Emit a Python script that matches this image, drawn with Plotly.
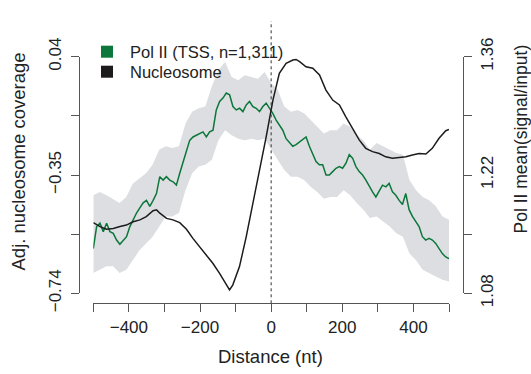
import numpy as np
import plotly.graph_objects as go

W, H = 531, 374

# ---------------- data ----------------
# Pol II mean signal/input (right axis), on an even distance grid
POL2_X = np.linspace(-500, 500, 108)
POL2_MEAN = [
    1.133, 1.159, 1.163, 1.153, 1.163, 1.153, 1.151, 1.143, 1.138, 1.143,
    1.147, 1.159, 1.167, 1.175, 1.181, 1.187, 1.190, 1.183, 1.190, 1.198,
    1.218, 1.214, 1.218, 1.214, 1.212, 1.208, 1.222, 1.234, 1.248, 1.261,
    1.265, 1.267, 1.269, 1.271, 1.265, 1.271, 1.273, 1.297, 1.307, 1.311,
    1.317, 1.315, 1.301, 1.297, 1.299, 1.295, 1.303, 1.307, 1.301, 1.299,
    1.295, 1.301, 1.305, 1.299, 1.293, 1.285, 1.279, 1.273, 1.263, 1.258,
    1.254, 1.256, 1.259, 1.261, 1.265, 1.254, 1.244, 1.236, 1.232, 1.232,
    1.220, 1.220, 1.224, 1.228, 1.230, 1.228, 1.234, 1.244, 1.240, 1.230,
    1.224, 1.220, 1.214, 1.206, 1.200, 1.194, 1.202, 1.208, 1.206, 1.210,
    1.200, 1.196, 1.190, 1.185, 1.198, 1.179, 1.171, 1.165, 1.159, 1.147,
    1.143, 1.145, 1.143, 1.139, 1.133, 1.127, 1.123, 1.121,
]

# Confidence band around Pol II mean
BAND_X = np.linspace(-500, 500, 55)
BAND_UPPER = [
    1.196, 1.200, 1.196, 1.192, 1.187, 1.194, 1.210, 1.216, 1.222, 1.232,
    1.250, 1.254, 1.252, 1.254, 1.281, 1.295, 1.299, 1.301, 1.325, 1.344,
    1.354, 1.336, 1.332, 1.338, 1.336, 1.334, 1.342, 1.329, 1.321, 1.301,
    1.295, 1.297, 1.293, 1.285, 1.277, 1.269, 1.273, 1.273, 1.281, 1.277,
    1.267, 1.261, 1.250, 1.258, 1.254, 1.250, 1.246, 1.244, 1.214, 1.202,
    1.194, 1.190, 1.183, 1.171, 1.167,
]
BAND_LOWER = [
    1.104, 1.108, 1.112, 1.112, 1.104, 1.108, 1.119, 1.131, 1.139, 1.147,
    1.159, 1.171, 1.171, 1.175, 1.202, 1.222, 1.230, 1.232, 1.238, 1.261,
    1.273, 1.267, 1.263, 1.261, 1.263, 1.261, 1.263, 1.250, 1.238, 1.226,
    1.218, 1.218, 1.214, 1.206, 1.200, 1.192, 1.194, 1.194, 1.202, 1.196,
    1.187, 1.179, 1.169, 1.171, 1.165, 1.159, 1.151, 1.147, 1.127, 1.119,
    1.108, 1.104, 1.100, 1.096, 1.094,
]

# Adjusted nucleosome coverage (left axis)
NUC_X = [
    -500, -481, -463, -444, -425, -407, -388, -369, -351, -332,
    -322, -313, -294, -276, -257, -238, -220, -201, -182, -164,
    -145, -126, -117, -108, -89, -70, -51, -33, -14, 5,
    23, 42, 61, 70, 80, 98, 117, 136, 154, 173,
    192, 210, 229, 248, 266, 285, 304, 322, 341, 360,
    379, 397, 416, 435, 453, 472, 491, 500,
]
NUC_COV = [
    -0.507, -0.520, -0.529, -0.526, -0.520, -0.515, -0.504, -0.498, -0.487, -0.468,
    -0.465, -0.476, -0.493, -0.498, -0.507, -0.529, -0.559, -0.586, -0.614, -0.641,
    -0.674, -0.713, -0.729, -0.713, -0.652, -0.553, -0.443, -0.334, -0.224, -0.103,
    -0.015, 0.018, 0.029, 0.031, 0.024, 0.007, 0.002, -0.020, -0.070, -0.103,
    -0.119, -0.158, -0.196, -0.235, -0.262, -0.273, -0.279, -0.290, -0.295, -0.292,
    -0.290, -0.284, -0.279, -0.281, -0.262, -0.229, -0.204, -0.200,
]

X_TICKS = [-500, -400, -300, -200, -100, 0, 100, 200, 300, 400, 500]
X_TICK_TEXT = ["", "\u2212400", "", "\u2212200", "", "0", "", "200", "", "400", ""]
YL_TICKS = [0.04, -0.155, -0.35, -0.545, -0.74]
YL_TICK_TEXT = ["0.04", "", "\u22120.35", "", "\u22120.74"]
YR_TICKS = [1.36, 1.29, 1.22, 1.15, 1.08]
YR_TICK_TEXT = ["1.36", "", "1.22", "", "1.08"]

SERIES_NAMES = ["Pol II (TSS, n=1,311)", "Nucleosome"]

# ---------------- style ----------------
GREEN = "#0b773a"
BLACK = "#1e1b1c"
BAND = "#dddee1"
AXIS = "#555555"
TEXT = "#222222"
FONT = "Liberation Sans, Arial, Helvetica, sans-serif"
SERIES_COLORS = [GREEN, BLACK]


def px(x):
    return x / W


def py(y):
    return 1 - y / H


fig = go.Figure()

# Pol II on base y axis (right side); nucleosome on overlaying y2 (left side, drawn on top)
fig.add_trace(go.Scatter(
    x=list(BAND_X) + list(BAND_X[::-1]),
    y=BAND_UPPER + BAND_LOWER[::-1],
    fill="toself", fillcolor=BAND, line=dict(width=0),
    mode="lines", yaxis="y", showlegend=False, hoverinfo="skip",
))
fig.add_trace(go.Scatter(
    x=POL2_X, y=POL2_MEAN, mode="lines", yaxis="y",
    line=dict(color=GREEN, width=1.5), showlegend=False,
))
fig.add_trace(go.Scatter(
    x=NUC_X, y=NUC_COV, mode="lines", yaxis="y2",
    line=dict(color=BLACK, width=1.5), showlegend=False,
))

axis_common = dict(
    showline=True, linecolor=AXIS, linewidth=1.2,
    ticks="outside", ticklen=8, tickwidth=1.2, tickcolor=AXIS,
    showgrid=False, zeroline=False, automargin=False,
    tickfont=dict(family=FONT, size=17, color=TEXT),
)

# manual legend: square keys + labels
LEG_KEY_X = 107
LEG_ROW_Y = [51.7, 71.7]
shapes = [dict(
    type="line", xref="x", yref="paper", x0=0, x1=0,
    y0=py(303.3), y1=py(21), line=dict(color="#333333", width=1, dash="3px,3px"),
    layer="above",
)]
annotations = [
    dict(text="Distance (nt)", xref="paper", yref="paper", x=px(270.5), y=py(356),
         xanchor="center", yanchor="middle", showarrow=False,
         font=dict(family=FONT, size=18.5, color=TEXT)),
    dict(text="Adj. nucleosome coverage", xref="paper", yref="paper", x=px(18.5), y=py(162),
         xanchor="center", yanchor="middle", showarrow=False, textangle=-90,
         font=dict(family=FONT, size=18.5, color=TEXT)),
    dict(text="Pol II mean(signal/input)", xref="paper", yref="paper", x=px(520.5), y=py(139),
         xanchor="center", yanchor="middle", showarrow=False, textangle=-90,
         font=dict(family=FONT, size=17.5, color=TEXT)),
]
for name, col, ry in zip(SERIES_NAMES, SERIES_COLORS, LEG_ROW_Y):
    shapes.append(dict(
        type="rect", xref="paper", yref="paper",
        x0=px(LEG_KEY_X - 6), x1=px(LEG_KEY_X + 6), y0=py(ry + 6), y1=py(ry - 6),
        fillcolor=col, line=dict(width=0), layer="above",
    ))
    annotations.append(dict(
        text=name, xref="paper", yref="paper", x=px(128), y=py(ry + 0.5),
        xanchor="left", yanchor="middle", showarrow=False,
        font=dict(family=FONT, size=16.5, color=TEXT),
    ))

fig.update_layout(
    width=W, height=H, autosize=False,
    margin=dict(l=0, r=0, t=0, b=0, autoexpand=False),
    paper_bgcolor="white", plot_bgcolor="white",
    font=dict(family=FONT, color=TEXT),
    showlegend=False,
    xaxis=dict(
        domain=[px(93.3), px(449)], range=[-500, 500],
        anchor="free", position=py(303.3),
        tickmode="array", tickvals=X_TICKS, ticktext=X_TICK_TEXT,
        **axis_common,
    ),
    yaxis=dict(
        domain=[py(293.3), py(56.7)], range=[1.08, 1.36],
        side="right", anchor="free", position=px(463.3),
        tickmode="array", tickvals=YR_TICKS, ticktext=YR_TICK_TEXT,
        tickangle=-90,
        **axis_common,
    ),
    yaxis2=dict(
        range=[-0.74, 0.04], overlaying="y", side="left",
        anchor="free", position=px(79),
        tickmode="array", tickvals=YL_TICKS, ticktext=YL_TICK_TEXT,
        tickangle=-90, ticklabelstandoff=3,
        **axis_common,
    ),
    shapes=shapes,
    annotations=annotations,
)

fig.write_html("out.html")
